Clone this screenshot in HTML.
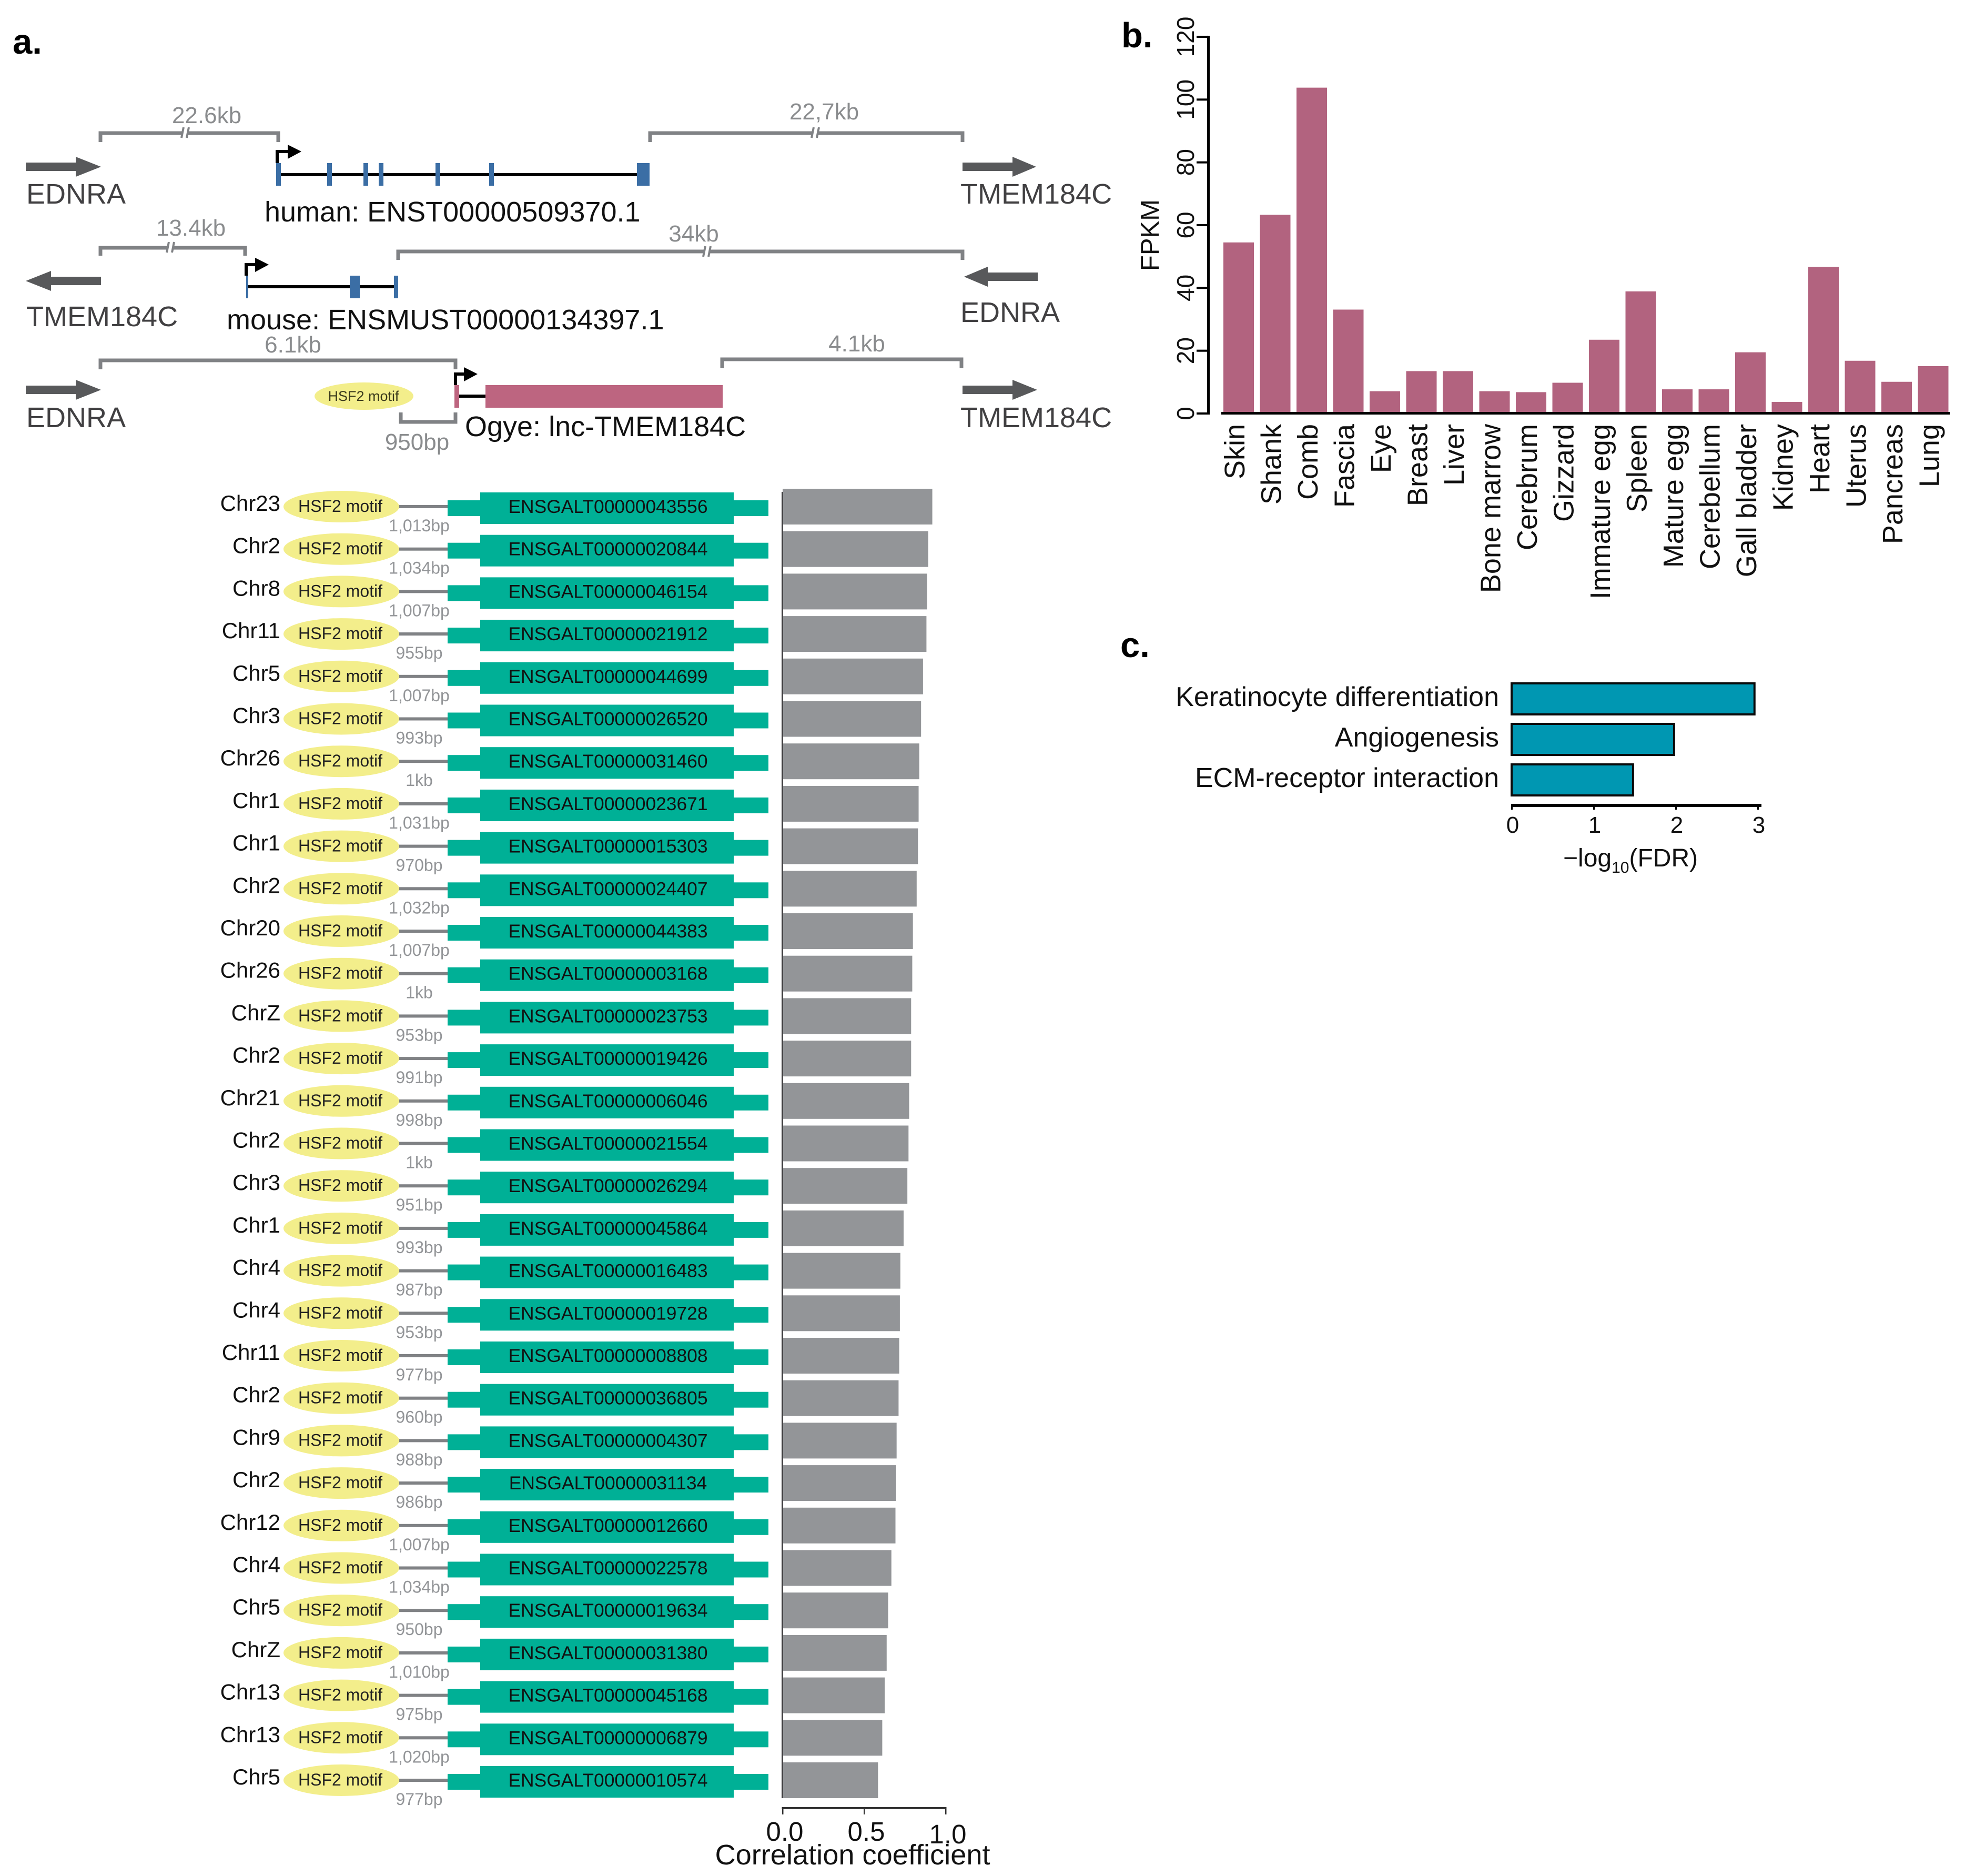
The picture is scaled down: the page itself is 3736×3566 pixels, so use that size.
<!DOCTYPE html>
<html lang="en">
<head>
<meta charset="utf-8">
<title>HSF2 motif lncRNA figure</title>
<style>
html,body{margin:0;padding:0;background:#fff;}
svg{display:block;font-family:"Liberation Sans",sans-serif;}
.gl{font-size:44px;fill:#8a8c8e;text-anchor:middle;}
.bk{fill:none;stroke:#808285;stroke-width:7;}
.br{fill:none;stroke:#808285;stroke-width:4;}
.gn{font-size:54px;fill:#414042;}
.lb{font-size:54px;fill:#111;}
.pl{font-size:67px;font-weight:bold;fill:#000;}
.ar{fill:#58595b;}
.ts{fill:none;stroke:#000;stroke-width:6;}
.ex{fill:#3b6ea5;}
.in{stroke:#000;stroke-width:6;}
</style>
</head>
<body>
<svg id="fig" xmlns="http://www.w3.org/2000/svg" width="3736" height="3566" viewBox="0 0 3736 3566">
<rect x="0" y="0" width="3736" height="3566" fill="#fff"/>

<text class="pl" x="24" y="102">a.</text>
<text class="pl" x="2132" y="90">b.</text>
<text class="pl" x="2130" y="1249">c.</text>

<g>
  <path class="bk" d="M191 270V253H529V270"/>
  <path d="M345 262l4-20h10l-4 20z" fill="#fff"/><path class="br" d="M345 262l4-20M355 262l4-20"/>
  <text class="gl" x="393" y="234">22.6kb</text>
  <path class="bk" d="M1236 270V253H1830V270"/>
  <path d="M1543 262l4-20h10l-4 20z" fill="#fff"/><path class="br" d="M1543 262l4-20M1553 262l4-20"/>
  <text class="gl" x="1567" y="227">22,7kb</text>
  <polygon class="ar" points="49,309 144,309 144,298 192,317 144,336 144,325 49,325"/>
  <text class="gn" x="50" y="387">EDNRA</text>
  <polygon class="ar" points="1830,309 1925,309 1925,298 1970,317 1925,336 1925,325 1830,325"/>
  <text class="gn" x="1826" y="387">TMEM184C</text>
  <line class="in" x1="529" y1="332" x2="1220" y2="332"/>
  <g>
    <rect class="ex" x="525" y="310" width="9" height="43"/>
    <rect class="ex" x="622" y="310" width="9" height="43"/>
    <rect class="ex" x="691" y="310" width="9" height="43"/>
    <rect class="ex" x="720" y="310" width="9" height="43"/>
    <rect class="ex" x="828" y="310" width="9" height="43"/>
    <rect class="ex" x="930" y="310" width="9" height="43"/>
    <rect class="ex" x="1211" y="310" width="24" height="43"/>
  </g>
  <path class="ts" d="M527 310V288H552"/>
  <polygon points="547,275 573,288 547,302" fill="#000"/>
  <text class="lb" x="503" y="421">human: ENST00000509370.1</text>
</g>

<g>
  <path class="bk" d="M191 486V471H466V486"/>
  <path d="M317 480l4-20h10l-4 20z" fill="#fff"/><path class="br" d="M317 480l4-20M327 480l4-20"/>
  <text class="gl" x="363" y="448">13.4kb</text>
  <path class="bk" d="M757 494V478H1830V494"/>
  <path d="M1337 488l4-20h10l-4 20z" fill="#fff"/><path class="br" d="M1337 488l4-20M1347 488l4-20"/>
  <text class="gl" x="1319" y="459">34kb</text>
  <polygon class="ar" points="192,526 97,526 97,515 49,534 97,553 97,542 192,542"/>
  <text class="gn" x="50" y="620">TMEM184C</text>
  <polygon class="ar" points="1973,518 1878,518 1878,507 1833,526 1878,545 1878,534 1973,534"/>
  <text class="gn" x="1826" y="612">EDNRA</text>
  <line class="in" x1="469" y1="545" x2="750" y2="545"/>
  <g>
    <rect class="ex" x="468" y="524" width="4" height="43"/>
    <rect class="ex" x="665" y="524" width="19" height="43"/>
    <rect class="ex" x="749" y="524" width="8" height="43"/>
  </g>
  <path class="ts" d="M468 524V503H490"/>
  <polygon points="485,490 511,503 485,517" fill="#000"/>
  <text class="lb" x="431" y="626">mouse: ENSMUST00000134397.1</text>
</g>

<g>
  <path class="bk" d="M191 702V685H866V702"/>
  <text class="gl" x="557" y="670">6.1kb</text>
  <path class="bk" d="M1373 700V683H1828V700"/>
  <text class="gl" x="1629" y="668">4.1kb</text>
  <polygon class="ar" points="49,733 144,733 144,722 192,741 144,760 144,749 49,749"/>
  <text class="gn" x="50" y="812">EDNRA</text>
  <polygon class="ar" points="1830,733 1925,733 1925,722 1972,741 1925,760 1925,749 1830,749"/>
  <text class="gn" x="1826" y="812">TMEM184C</text>
  <ellipse cx="692" cy="753" rx="94" ry="26" fill="#f3ee8b"/>
  <text x="691" y="762" font-size="27" text-anchor="middle" fill="#3a3a1c">HSF2 motif</text>
  <line class="in" x1="873" y1="753" x2="923" y2="753"/>
  <rect x="864" y="732" width="9" height="43" fill="#bd6580"/>
  <rect x="923" y="732" width="451" height="43" fill="#bd6580"/>
  <path class="ts" d="M866 732V711H887"/>
  <polygon points="882,698 908,711 882,725" fill="#000"/>
  <path class="bk" d="M762 784V802H866V784"/>
  <text class="gl" x="793" y="855">950bp</text>
  <text class="lb" x="884" y="829">Ogye: lnc-TMEM184C</text>
</g>

<g id="rows"></g>
<g id="corr"></g>
<g id="fpkm"></g>
<g id="go"></g>
</svg>

<script>
// Panel a rows
const chromosomes = ["Chr23","Chr2","Chr8","Chr11","Chr5","Chr3","Chr26","Chr1","Chr1","Chr2","Chr20","Chr26","ChrZ","Chr2","Chr21","Chr2","Chr3","Chr1","Chr4","Chr4","Chr11","Chr2","Chr9","Chr2","Chr12","Chr4","Chr5","ChrZ","Chr13","Chr13","Chr5"];
const transcripts = ["ENSGALT00000043556","ENSGALT00000020844","ENSGALT00000046154","ENSGALT00000021912","ENSGALT00000044699","ENSGALT00000026520","ENSGALT00000031460","ENSGALT00000023671","ENSGALT00000015303","ENSGALT00000024407","ENSGALT00000044383","ENSGALT00000003168","ENSGALT00000023753","ENSGALT00000019426","ENSGALT00000006046","ENSGALT00000021554","ENSGALT00000026294","ENSGALT00000045864","ENSGALT00000016483","ENSGALT00000019728","ENSGALT00000008808","ENSGALT00000036805","ENSGALT00000004307","ENSGALT00000031134","ENSGALT00000012660","ENSGALT00000022578","ENSGALT00000019634","ENSGALT00000031380","ENSGALT00000045168","ENSGALT00000006879","ENSGALT00000010574"];
const distances = ["1,013bp","1,034bp","1,007bp","955bp","1,007bp","993bp","1kb","1,031bp","970bp","1,032bp","1,007bp","1kb","953bp","991bp","998bp","1kb","951bp","993bp","987bp","953bp","977bp","960bp","988bp","986bp","1,007bp","1,034bp","950bp","1,010bp","975bp","1,020bp","977bp"];
const correlations = [0.918,0.893,0.886,0.882,0.861,0.849,0.838,0.834,0.830,0.822,0.799,0.795,0.788,0.788,0.776,0.772,0.765,0.742,0.722,0.719,0.715,0.711,0.699,0.696,0.692,0.667,0.647,0.638,0.626,0.611,0.585];
const corrTicks = [0, 0.5, 1];
const corrTickLabels = ["0.0","0.5","1.0"];

// Panel b
const tissues = ["Skin","Shank","Comb","Fascia","Eye","Breast","Liver","Bone marrow","Cerebrum","Gizzard","Immature egg","Spleen","Mature egg","Cerebellum","Gall bladder","Kidney","Heart","Uterus","Pancreas","Lung"];
const fpkmValues = [54.5,63.3,103.8,33.1,7.1,13.5,13.5,7.1,6.8,9.8,23.5,38.9,7.7,7.7,19.5,3.7,46.7,16.8,10.1,15.1];
const fpkmTicks = [0,20,40,60,80,100,120];

// Panel c
const goTerms = ["Keratinocyte differentiation","Angiogenesis","ECM-receptor interaction"];
const goValues = [2.96,1.98,1.48];
const goTicks = [0,1,2,3];

const NS = "http://www.w3.org/2000/svg";
function mk(parent, tag, attrs, txt){
  const e = document.createElementNS(NS, tag);
  for (const k in attrs) e.setAttribute(k, attrs[k]);
  if (txt !== undefined) e.textContent = txt;
  parent.appendChild(e);
  return e;
}

// axis functions
const rowY = i => 963 + 80.7 * i;
const corrX = v => 1488 + 310 * v;
const fpkmY = v => 786 - 5.967 * v;
const fpkmX = i => 2326 + 69.5 * i;
const goX = v => 2874 + 156 * v;
const goY = i => 1297 + 77 * i;

const rowsG = document.getElementById('rows');
const corrG = document.getElementById('corr');

chromosomes.forEach((chr, i) => {
  const c = rowY(i);
  const row = mk(rowsG, 'g', {});
  
  

  const chrLabel = mk(row, 'text', {x:533, y:c+8, 'font-size':42, 'text-anchor':'end', fill:'#111'}, chr);
  
  

  const motif = mk(row, 'ellipse', {cx:649, cy:c, rx:110, ry:30, fill:'#f3ee8b'});
  
  

  const motifLabel = mk(row, 'text', {x:647, y:c+10, 'font-size':32, 'text-anchor':'middle', fill:'#222'}, 'HSF2 motif');
  
  

  const link = mk(row, 'rect', {x:759, y:c-3, width:92, height:6, fill:'#808285'});
  
  

  const utr = mk(row, 'rect', {x:851, y:c-12, width:610, height:30, fill:'#00b096'});
  
  

  const cds = mk(row, 'rect', {x:913, y:c-27, width:482, height:60, fill:'#00b096'});
  
  

  const idLabel = mk(row, 'text', {x:1156, y:c+12, 'font-size':35.4, 'text-anchor':'middle', fill:'#111'}, transcripts[i]);
  
  

  const dist = mk(row, 'text', {x:797, y:c+47, 'font-size':32, 'text-anchor':'middle', fill:'#939598'}, distances[i]);
  
  

  const bar = mk(corrG, 'rect', {x:corrX(0), y:c-34, width:corrX(correlations[i])-corrX(0), height:68, fill:'#939598'});
  
  
});

const corrBase = mk(corrG, 'rect', {x:corrX(0)-2, y:rowY(0)-28, width:3, height:rowY(30)-rowY(0)+62, fill:'#414042'});



const corrAxis = mk(corrG, 'rect', {x:corrX(0)-1.5, y:3435, width:corrX(1)-corrX(0)+3, height:4, fill:'#333'});



corrTicks.forEach((t, i) => {
  const tick = mk(corrG, 'rect', {x:corrX(t)-1, y:3437, width:2.5, height:12, fill:'#333'});
  
  
  const lab = mk(corrG, 'text', {x:corrX(t)+4, y:i === 2 ? 3504 : 3499, 'font-size':51, 'text-anchor':'middle', fill:'#111'}, corrTickLabels[i]);
  
  
});

const corrTitle = mk(corrG, 'text', {x:1621, y:3544, 'font-size':54.2, 'text-anchor':'middle', fill:'#111'}, 'Correlation coefficient');



// Panel b drawing
const fG = document.getElementById('fpkm');
tissues.forEach((name, i) => {
  const bar = mk(fG, 'rect', {x:fpkmX(i), y:fpkmY(fpkmValues[i]), width:58, height:fpkmY(0)-fpkmY(fpkmValues[i]), fill:'#b2637f'});
  
  
  const bx = fpkmX(i) + 29 + 11;
  const lab = mk(fG, 'text', {x:bx, y:806, 'font-size':54, 'text-anchor':'end', fill:'#111', transform:'rotate(-90 '+bx+' 806)'}, name);
  
  
});

const fYAxis = mk(fG, 'rect', {x:2295, y:fpkmY(120)-2, width:5, height:fpkmY(0)-fpkmY(120)+4, fill:'#000'});



const fXAxis = mk(fG, 'rect', {x:2322, y:fpkmY(0)-3, width:1385, height:5, fill:'#000'});



fpkmTicks.forEach(t => {
  const y = fpkmY(t);
  const tick = mk(fG, 'rect', {x:2275, y:y-2, width:22, height:4, fill:'#000'});
  
  
  const lab = mk(fG, 'text', {x:2270, y:y, 'font-size':46, 'text-anchor':'middle', fill:'#111', transform:'rotate(-90 2270 '+y+')'}, String(t));
  
  
});

const fTitle = mk(fG, 'text', {x:2203, y:447, 'font-size':49, 'text-anchor':'middle', fill:'#111', transform:'rotate(-90 2203 447)'}, 'FPKM');



// Panel c drawing
const gG = document.getElementById('go');
goTerms.forEach((term, i) => {
  const bar = mk(gG, 'rect', {x:goX(0), y:goY(i)+2, width:goX(goValues[i])-goX(0), height:59, fill:'#0097b2', stroke:'#0a0a0a', 'stroke-width':4});
  
  
  const lab = mk(gG, 'text', {x:2850, y:goY(i)+45, 'font-size':52, 'text-anchor':'end', fill:'#111'}, term);
  
  
});

const gAxis = mk(gG, 'rect', {x:goX(0)-1, y:1528, width:goX(3)-goX(0)+8, height:6, fill:'#000'});



goTicks.forEach(t => {
  const tick = mk(gG, 'rect', {x:goX(t)-1, y:1531, width:3, height:8, fill:'#000'});
  
  
  const lab = mk(gG, 'text', {x:goX(t)+2, y:1583, 'font-size':44, 'text-anchor':'middle', fill:'#111'}, String(t));
  
  
});

const gTitle = mk(gG, 'text', {x:2972, y:1647, 'font-size':48, fill:'#111'});


mk(gTitle, 'tspan', {}, '\u2212log');
mk(gTitle, 'tspan', {dy:12, 'font-size':30}, '10');
mk(gTitle, 'tspan', {dy:-12}, '(FDR)');
</script>
</body>
</html>
